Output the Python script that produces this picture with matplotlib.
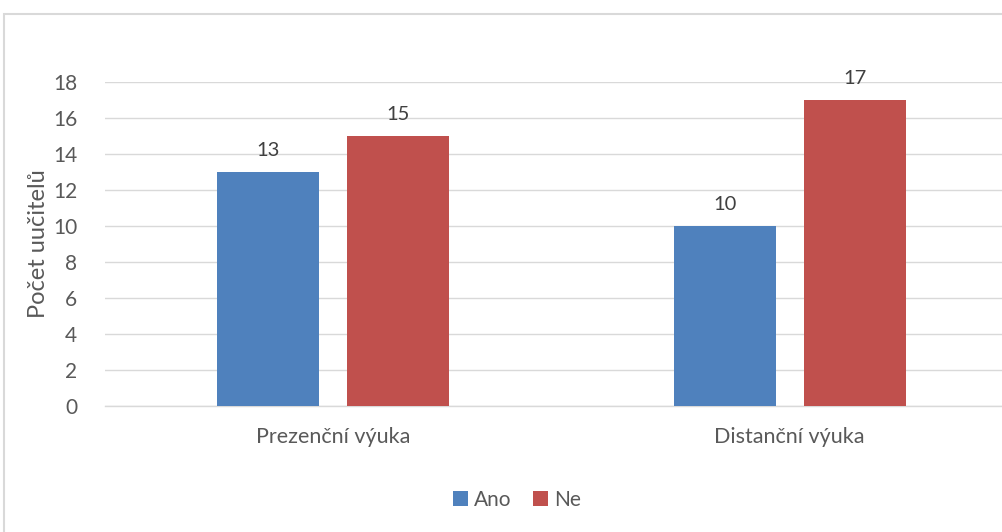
import matplotlib.pyplot as plt
import numpy as np
from matplotlib.patches import Rectangle

categories = ["Prezenční výuka", "Distanční výuka"]
ano = [13, 10]
ne = [15, 17]
series = {"Ano": ano, "Ne": ne}
colors = {"Ano": "#4F81BD", "Ne": "#C0504D"}
y_ticks = list(range(0, 19, 2))

TEXT = "#595959"
GRID = "#D9D9D9"

plt.rcParams["font.family"] = ["Lato", "DejaVu Sans"]

fig = plt.figure(figsize=(10.02, 5.32), dpi=100)
# chart border (image is cropped on the right/bottom)
fig.patches.append(Rectangle((3.5 / 1002, -0.1), 1.2, 1 - 13.5 / 532 + 0.1,
                             transform=fig.transFigure, fill=False,
                             edgecolor="#D9D9D9", linewidth=1.5))

ax = fig.add_axes([105 / 1002, 1 - 406 / 532, 913 / 1002, 324 / 532])

x = np.arange(len(categories))
width = 0.2234
offset = 0.142
for i, (name, vals) in enumerate(series.items()):
    pos = x + (i - 0.5) * 2 * offset
    bars = ax.bar(pos, vals, width=width, color=colors[name], label=name, zorder=3)
    for b, v in zip(bars, vals):
        ax.text(b.get_x() + b.get_width() / 2, v + 0.75, str(v), ha="center",
                va="bottom", fontsize=14.5, color="#404040")

ax.set_xlim(-0.5, len(categories) - 0.5)
ax.set_ylim(0, 18)
ax.set_yticks(y_ticks)
ax.yaxis.grid(True, color=GRID, linewidth=1.0, zorder=0)
ax.set_axisbelow(True)
for s in ["top", "right", "left"]:
    ax.spines[s].set_visible(False)
ax.spines["bottom"].set_color(GRID)
ax.spines["bottom"].set_linewidth(1.0)
ax.tick_params(axis="y", length=0, labelsize=15, colors=TEXT, pad=20)
ax.tick_params(axis="x", length=0, labelsize=15.5, colors=TEXT, pad=15)
ax.set_xticks(x)
ax.set_xticklabels(categories)
ax.set_ylabel("Počet uučitelů", fontsize=17, color=TEXT, labelpad=3)

handles, labels = ax.get_legend_handles_labels()
fig.legend(handles, labels, loc="center", bbox_to_anchor=(517 / 1002, 1 - 500 / 532),
           ncol=2, frameon=False, fontsize=15, labelcolor=TEXT,
           handlelength=0.75, handleheight=0.75, handletextpad=0.3, columnspacing=1.0)

fig.savefig("out.png", dpi=100)
